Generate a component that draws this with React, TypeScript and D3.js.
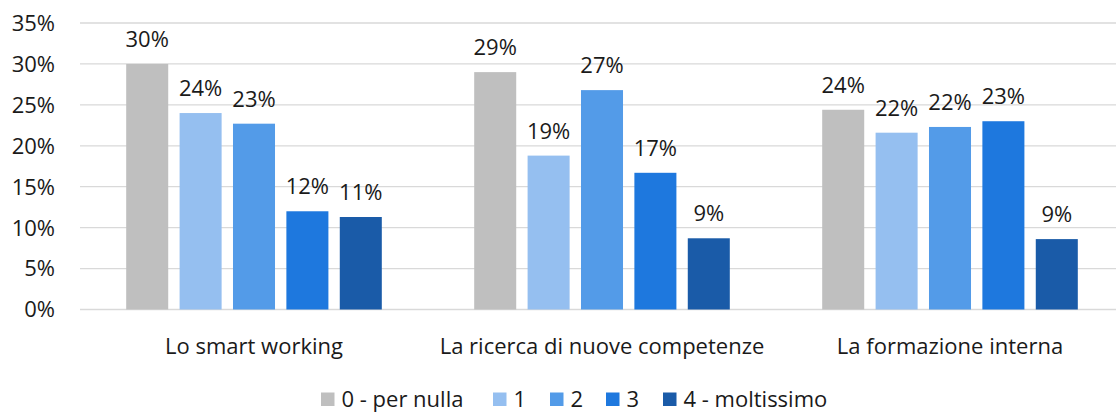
import React from "react";
import * as d3 from "d3";

const categories = ["Lo smart working", "La ricerca di nuove competenze", "La formazione interna"];
const seriesNames = ["0 - per nulla", "1", "2", "3", "4 - moltissimo"];
const seriesColors = ["#BFBFBF", "#95BFF0", "#539BE8", "#1E78DE", "#1A5BA8"];
// values[series][category]
const s0 = [0.300, 0.290, 0.244];
const s1 = [0.240, 0.188, 0.216];
const s2 = [0.227, 0.268, 0.223];
const s3 = [0.120, 0.167, 0.230];
const s4 = [0.113, 0.087, 0.086];
const seriesValues = [s0, s1, s2, s3, s4];
const yTicks = [0, 0.05, 0.1, 0.15, 0.2, 0.25, 0.3, 0.35];

const W = 1116;
const H = 412;
const FONT = "'Open Sans', 'Noto Sans', sans-serif";
const FS = 22;

export default function App() {
  const x0 = d3.scaleBand<string>().domain(categories).range([80, 80 + 3 * 348]).padding(0);
  const groupSpan = 255.6;
  const x1 = d3.scaleBand<string>().domain(seriesNames).range([0, groupSpan]).paddingInner(0.213).paddingOuter(0);
  const groupOffset = (x0.bandwidth() - groupSpan) / 2;
  const y = d3.scaleLinear().domain([0, 0.35]).range([309.5, 23]);
  const fmt = d3.format(".0%");

  const legendX = [321, 493, 550, 606, 663];

  return (
    <svg width={W} height={H} style={{ position: "absolute", left: 0, top: 0, background: "#fff" }} fontFamily={FONT}>
      {yTicks.map((t) => (
        <g key={t}>
          <line x1={80} x2={W} y1={y(t)} y2={y(t)} stroke="#D9D9D9" strokeWidth={1.3} />
          <text x={55} y={y(t)} dy="0.36em" textAnchor="end" fontSize={FS} fill="#1a1a1a">
            {fmt(t)}
          </text>
        </g>
      ))}
      {categories.map((c, ci) => (
        <g key={c} transform={`translate(${(x0(c) as number) + groupOffset},0)`}>
          {seriesNames.map((s, si) => {
            const v = seriesValues[si][ci];
            const bx = x1(s) as number;
            return (
              <g key={s}>
                <rect x={bx} y={y(v)} width={x1.bandwidth()} height={y(0) - y(v)} fill={seriesColors[si]} />
                <text x={bx + x1.bandwidth() / 2} y={y(v) - 17} textAnchor="middle" fontSize={FS} fill="#1a1a1a">
                  {fmt(v)}
                </text>
              </g>
            );
          })}
        </g>
      ))}
      {categories.map((c) => (
        <text key={c} x={(x0(c) as number) + x0.bandwidth() / 2} y={354} textAnchor="middle" fontSize={FS} fill="#1a1a1a">
          {c}
        </text>
      ))}
      {seriesNames.map((s, i) => (
        <g key={s}>
          <rect x={legendX[i]} y={392.5} width={13.5} height={13.5} fill={seriesColors[i]} />
          <text x={legendX[i] + 20.5} y={407} fontSize={FS} fill="#1a1a1a">
            {s}
          </text>
        </g>
      ))}
    </svg>
  );
}
